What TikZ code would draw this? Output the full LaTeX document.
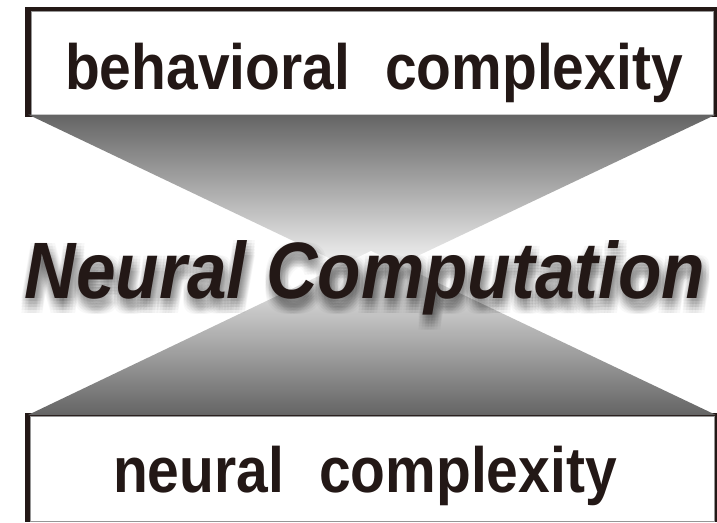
\documentclass[tikz,border=0pt]{standalone}
\usepackage{fontspec}
\setmainfont{Liberation Sans}
\newfontfamily\labelfont[FakeStretch=0.89]{Liberation Sans}

\definecolor{ink}{RGB}{35,24,22}
\definecolor{edgegray}{RGB}{150,150,150}
\definecolor{funnelgray}{RGB}{100,100,100}

\begin{document}
\begin{tikzpicture}[x=1pt,y=-1pt,
  boxtext/.style={font=\labelfont\bfseries\fontsize{64}{64}\selectfont,
    text=ink, inner sep=0pt, anchor=base},
  titletext/.style={font=\labelfont\bfseries\itshape\fontsize{80}{80}\selectfont,
    inner sep=0pt, anchor=base},
  darkframe/.style={fill=ink},
  whitebox/.style={fill=white, draw=edgegray, line width=0.8pt}]
\useasboundingbox (0,0) rectangle (717,522);

% upper box
\fill[darkframe] (25,7) rectangle (717,117);
\filldraw[whitebox] (31,11) rectangle (713,115);

% lower box
\fill[darkframe] (25,413) rectangle (717,522);
\filldraw[whitebox] (30,416) rectangle (714,521);

% funnels between the boxes
\shade[top color=funnelgray, bottom color=white] (28,114.5) -- (716,114.5) -- (371,278) -- cycle;
\shade[top color=white, bottom color=funnelgray] (371,251) -- (716,415) -- (28,415) -- cycle;

% box labels
\node[boxtext] (behav) at (374,89) {behavioral\hspace{0.55em}complexity};
\node[boxtext] (neural) at (365,492) {neural\hspace{0.55em}complexity};

% soft drop shadow of the title
\foreach \dx in {-4,-1,...,8}
  \foreach \dy in {0,3,...,15}
    \node[titletext, text=black, opacity=0.028] at (365+\dx,298+\dy) {Neural Computation};
\node[titletext, text=ink] (title) at (365,298) {Neural Computation};
\end{tikzpicture}
\end{document}
